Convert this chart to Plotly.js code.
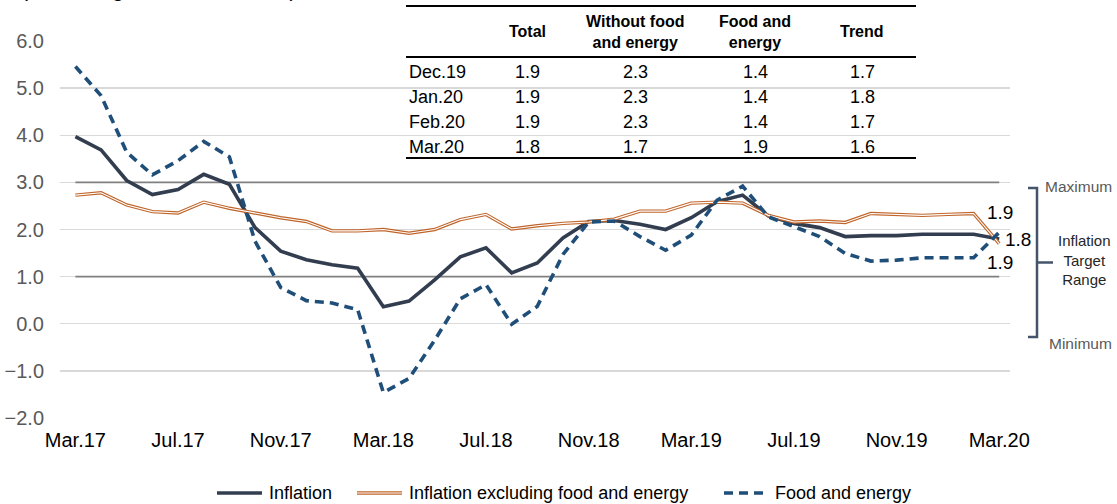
<!DOCTYPE html>
<html>
<head>
<meta charset="utf-8">
<script src="https://cdn.plot.ly/plotly-3.0.1.min.js"></script>
<style>
  html, body { margin: 0; padding: 0; background: #ffffff; }
  #chart { width: 1117px; height: 504px; }
</style>
</head>
<body>
<div id="chart"></div>
<script>
// ---------------- DATA ----------------
const months = [
  'Mar.17','Apr.17','May.17','Jun.17','Jul.17','Aug.17','Sep.17','Oct.17','Nov.17','Dec.17','Jan.18','Feb.18',
  'Mar.18','Apr.18','May.18','Jun.18','Jul.18','Aug.18','Sep.18','Oct.18','Nov.18','Dec.18','Jan.19','Feb.19',
  'Mar.19','Apr.19','May.19','Jun.19','Jul.19','Aug.19','Sep.19','Oct.19','Nov.19','Dec.19','Jan.20','Feb.20',
  'Mar.20'
];
const tickLabels = ['Mar.17','Jul.17','Nov.17','Mar.18','Jul.18','Nov.18','Mar.19','Jul.19','Nov.19','Mar.20'];

const inflation = [
  3.97, 3.69, 3.04, 2.74, 2.85, 3.17, 2.96, 2.04, 1.54, 1.36, 1.25, 1.18,
  0.36, 0.48, 0.93, 1.42, 1.61, 1.08, 1.29, 1.82, 2.17, 2.19, 2.11, 2.00,
  2.25, 2.59, 2.73, 2.29, 2.13, 2.04, 1.85, 1.87, 1.87, 1.90, 1.90, 1.90,
  1.80
];
const coreInflation = [
  2.73, 2.78, 2.52, 2.38, 2.35, 2.58, 2.45, 2.35, 2.25, 2.17, 1.97, 1.97,
  2.00, 1.92, 2.00, 2.21, 2.32, 2.01, 2.08, 2.13, 2.16, 2.22, 2.39, 2.39,
  2.56, 2.58, 2.56, 2.30, 2.16, 2.18, 2.15, 2.34, 2.32, 2.30, 2.32, 2.34,
  1.70
];
const foodEnergy = [
  5.46, 4.84, 3.64, 3.16, 3.46, 3.87, 3.54, 1.75, 0.77, 0.49, 0.44, 0.30,
  -1.46, -1.16, -0.35, 0.53, 0.83, -0.01, 0.37, 1.47, 2.16, 2.18, 1.85, 1.56,
  1.88, 2.62, 2.92, 2.27, 2.06, 1.85, 1.49, 1.33, 1.35, 1.40, 1.40, 1.40,
  1.94
];
const seriesNames = ['Inflation', 'Inflation excluding food and energy', 'Food and energy'];

const targetMin = 1;
const targetMax = 3;
const endLabels = ['1.9', '1.8', '1.9'];
const endLabelValues = [2.37, 1.78, 1.31];

// summary table
const tableHeaders = ['Total', 'Without food<br>and energy', 'Food and<br>energy', 'Trend'];
const tableRows   = ['Dec.19', 'Jan.20', 'Feb.20', 'Mar.20'];
const tableTotal  = [1.9, 1.9, 1.9, 1.8];
const tableCore   = [2.3, 2.3, 2.3, 1.7];
const tableFood   = [1.4, 1.4, 1.4, 1.9];
const tableTrend  = [1.7, 1.8, 1.7, 1.6];

const titleText = '(Percentage annual variation)';

// ---------------- LAYOUT HELPERS ----------------
const W = 1117, H = 504;
const M = { l: 60, r: 107, t: 41, b: 86 };
const PW = W - M.l - M.r, PH = H - M.t - M.b;
const px = x => (x - M.l) / PW;          // pixel -> paper x
const py = y => 1 - (y - M.t) / PH;      // pixel -> paper y

const FONT = 'Liberation Sans, Arial, Helvetica, sans-serif';
const fmt = v => v.toFixed(1);

const C_INF = '#323E4F', C_CORE = '#C0652A', C_FOOD = '#1F4E79';
const FOOD_DASH = '9px,6px';

// ---------------- TRACES ----------------
const traces = [
  {
    x: months, y: inflation, name: seriesNames[0], type: 'scatter', mode: 'lines',
    line: { color: C_INF, width: 3.6 }, hoverinfo: 'skip'
  },
  {
    x: months, y: coreInflation, name: seriesNames[1], type: 'scatter', mode: 'lines',
    line: { color: C_CORE, width: 3.4 }, hoverinfo: 'skip'
  },
  {
    x: months, y: coreInflation, name: seriesNames[1], type: 'scatter', mode: 'lines',
    line: { color: '#ffffff', width: 1.1 }, hoverinfo: 'skip'
  },
  {
    x: months, y: foodEnergy, name: seriesNames[2], type: 'scatter', mode: 'lines',
    line: { color: C_FOOD, width: 3.6, dash: FOOD_DASH }, hoverinfo: 'skip'
  }
];

// ---------------- SHAPES ----------------
const shapes = [
  // target range bounds
  { type: 'line', xref: 'x', yref: 'y', x0: 0, x1: months.length - 1, y0: targetMax, y1: targetMax,
    line: { color: '#808080', width: 1.6 }, layer: 'between' },
  { type: 'line', xref: 'x', yref: 'y', x0: 0, x1: months.length - 1, y0: targetMin, y1: targetMin,
    line: { color: '#808080', width: 1.6 }, layer: 'between' },
  // table background
  { type: 'rect', xref: 'paper', yref: 'paper', x0: px(403), x1: px(918), y0: py(0), y1: py(161),
    fillcolor: '#ffffff', line: { width: 0 }, layer: 'between' },
  // table rules
  { type: 'line', xref: 'paper', yref: 'paper', x0: px(406), x1: px(916), y0: py(6), y1: py(6),
    line: { color: '#000000', width: 2 } },
  { type: 'line', xref: 'paper', yref: 'paper', x0: px(406), x1: px(916), y0: py(57), y1: py(57),
    line: { color: '#000000', width: 2 } },
  { type: 'line', xref: 'paper', yref: 'paper', x0: px(406), x1: px(916), y0: py(158), y1: py(158),
    line: { color: '#000000', width: 2 } },
  // target range bracket
  { type: 'path', xref: 'paper', yref: 'paper',
    path: `M ${px(1028)},${py(188)} L ${px(1037)},${py(188)} L ${px(1037)},${py(337)} L ${px(1028)},${py(337)}`,
    line: { color: '#44546A', width: 2.5 } },
  { type: 'line', xref: 'paper', yref: 'paper', x0: px(1037), x1: px(1053), y0: py(262.5), y1: py(262.5),
    line: { color: '#44546A', width: 2.5 } }
];

// legend samples (drawn by hand to reproduce the double line style)
const LEG_Y = 493;
const legendItems = [
  { sx0: 217, sx1: 262, tx: 267, name: seriesNames[0], lines: [{ color: C_INF, width: 3.6 }] },
  { sx0: 357, sx1: 402, tx: 407, name: seriesNames[1], lines: [{ color: C_CORE, width: 3.4 }, { color: '#ffffff', width: 1.1 }] },
  { sx0: 724, sx1: 766, tx: 773, name: seriesNames[2], lines: [{ color: C_FOOD, width: 3.6, dash: FOOD_DASH }] }
];
legendItems.forEach(it => {
  it.lines.forEach(l => {
    shapes.push({ type: 'line', xref: 'paper', yref: 'paper',
      x0: px(it.sx0), x1: px(it.sx1), y0: py(LEG_Y), y1: py(LEG_Y), line: l });
  });
});

// ---------------- ANNOTATIONS ----------------
const annotations = [];
annotations.push({
  text: titleText, xref: 'paper', yref: 'paper', x: px(19), y: py(3),
  xanchor: 'left', yanchor: 'bottom', showarrow: false,
  font: { family: FONT, size: 21, color: '#000000' }
});

legendItems.forEach(it => {
  annotations.push({ text: it.name, xref: 'paper', yref: 'paper', x: px(it.tx), y: py(LEG_Y),
    xanchor: 'left', yanchor: 'middle', showarrow: false,
    font: { family: FONT, size: 18, color: '#000000' } });
});

// end labels
const endShift = [1, 19, 1];
endLabels.forEach((t, i) => {
  annotations.push({
    text: t, xref: 'x', yref: 'y', x: months.length - 1, y: endLabelValues[i],
    xshift: endShift[i], xanchor: 'center', yanchor: 'middle', showarrow: false,
    font: { family: FONT, size: 19, color: '#000000' }
  });
});

// bracket labels
annotations.push({ text: 'Maximum', xref: 'paper', yref: 'paper', x: px(1078), y: py(186),
  xanchor: 'center', yanchor: 'middle', showarrow: false, font: { family: FONT, size: 15.5, color: '#595959' } });
annotations.push({ text: 'Minimum', xref: 'paper', yref: 'paper', x: px(1080), y: py(343),
  xanchor: 'center', yanchor: 'middle', showarrow: false, font: { family: FONT, size: 15.5, color: '#595959' } });
annotations.push({ text: 'Inflation<br>Target<br>Range', xref: 'paper', yref: 'paper', x: px(1084), y: py(260),
  xanchor: 'center', yanchor: 'middle', showarrow: false, font: { family: FONT, size: 15, color: '#262626' } });

// table
const colX = [527, 635, 755, 862];
const rowY = [72, 97, 122, 147];
tableHeaders.forEach((h, j) => {
  annotations.push({ text: '<b>' + h + '</b>', xref: 'paper', yref: 'paper', x: px(colX[j]), y: py(31.5),
    xanchor: 'center', yanchor: 'middle', align: 'center', showarrow: false,
    font: { family: FONT, size: 16, color: '#000000' } });
});
const tableCols = [tableTotal, tableCore, tableFood, tableTrend];
tableRows.forEach((r, i) => {
  annotations.push({ text: r, xref: 'paper', yref: 'paper', x: px(407), y: py(rowY[i]),
    xanchor: 'left', yanchor: 'middle', showarrow: false,
    font: { family: FONT, size: 18, color: '#000000' } });
  tableCols.forEach((col, j) => {
    annotations.push({ text: fmt(col[i]), xref: 'paper', yref: 'paper', x: px(colX[j]), y: py(rowY[i]),
      xanchor: 'center', yanchor: 'middle', showarrow: false,
      font: { family: FONT, size: 18, color: '#000000' } });
  });
});

// ---------------- LAYOUT ----------------
const layout = {
  width: W, height: H,
  margin: M,
  paper_bgcolor: '#ffffff', plot_bgcolor: '#ffffff',
  font: { family: FONT, color: '#000000' },
  showlegend: false,
  xaxis: {
    type: 'category', range: [-0.6, 36.42], automargin: false,
    tickmode: 'array', tickvals: tickLabels, ticktext: tickLabels,
    showgrid: false, zeroline: false, showline: false, ticks: '',
    ticklabelstandoff: 8,
    tickfont: { family: FONT, size: 20, color: '#000000' }
  },
  yaxis: {
    range: [-2, 6], dtick: 1, tick0: 0, tickformat: '.1f', automargin: false,
    showgrid: true, gridcolor: '#d9d9d9', gridwidth: 1.3,
    zeroline: false, showline: false, ticks: '',
    ticklabelstandoff: 15,
    tickfont: { family: FONT, size: 20, color: '#595959' }
  },
  shapes: shapes,
  annotations: annotations
};

Plotly.newPlot('chart', traces, layout, { displayModeBar: false, staticPlot: true });
</script>
</body>
</html>
